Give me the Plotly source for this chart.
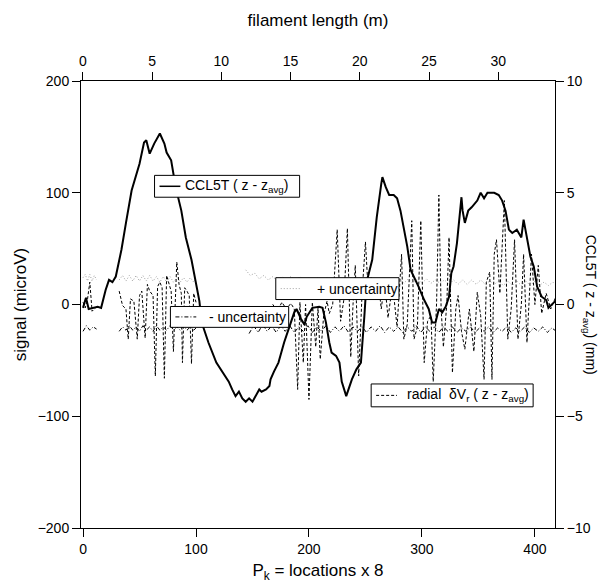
import plotly.graph_objects as go

# ---- data ------------------------------------------------------------------
# CCL5T (z - z_avg), in mm (right axis)
ccl_x = [0, 2.6, 5, 9.7, 13, 16, 20, 23, 26, 29, 34, 38, 43, 50, 54, 56, 59, 63, 68, 72,
         74, 78, 82, 87, 91, 96, 100, 103, 105, 111, 118, 123, 129, 132, 135, 138, 141,
         144, 147, 150, 153, 156, 158, 162, 165, 166, 169, 173, 178, 181, 184, 187, 189,
         193, 196, 198, 203, 209, 212, 215, 218, 220, 224, 227, 229, 233, 235, 238, 242,
         246, 249, 251, 256, 260, 264, 265, 268, 271, 275, 278, 281, 284, 287, 290, 293,
         297, 302, 306, 309, 312, 315, 318, 321, 324, 326, 328, 331, 335, 336, 338, 341,
         344, 349, 352, 355, 358, 364, 368, 371, 374, 377, 380, 384, 388, 390, 393, 396,
         399, 402, 406, 410, 412, 417, 419]
ccl_mm = [-0.15, 0.3, -0.2, -0.15, -0.1, -0.15, 0.65, 1.1, 1.0, 1.25, 2.45, 3.65, 5.1, 6.3,
          7.25, 7.35, 6.75, 7.2, 7.65, 7.2, 6.8, 6.45, 5.25, 4.2, 3.0, 2.0, 1.0, 0.15, -0.8,
          -1.7, -2.6, -3.0, -3.45, -3.8, -4.1, -3.9, -4.2, -4.35, -4.2, -4.35, -4.1, -3.8,
          -3.9, -3.8, -3.65, -3.35, -3.0, -2.6, -1.7, -1.25, -0.8, -0.35, -0.2, -0.65, -0.9,
          -0.55, -0.15, -0.1, -0.15, -0.8, -1.7, -2.15, -2.3, -2.6, -3.45, -4.1, -3.8, -3.35,
          -2.9, -2.6, -0.55, 1.0, 2.0, 3.9, 5.4, 5.7, 5.25, 4.9, 4.9, 4.75, 4.2, 3.35, 2.6,
          1.55, 1.25, 0.8, 0.2, -0.2, -0.8, -0.8, -0.2, -0.35, -0.1, 0.35, 1.4, 1.7, 2.75,
          4.8, 4.2, 3.65, 4.2, 4.35, 4.65, 5.0, 4.75, 5.0, 5.0, 4.9, 4.65, 4.2, 3.35, 3.2,
          3.35, 3.0, 3.8, 3.0, 2.15, 1.7, 0.8, 0.35, 0.2, -0.15, 0.1, 0.2]

# radial dVr (z - z_avg), microV
radial_x = [0, 2, 4, 6, 8, 10, 12, 13,
            32, 35, 38, 40, 42, 45, 48, 50, 52, 55, 57, 59, 62, 64, 66, 68, 70, 72, 74, 76,
            78, 80, 83, 85, 87, 88, 90, 92, 94, 96, 98, 100, 101,
            144, 146, 148, 150, 152, 156, 160, 164, 168, 172, 176, 180, 184, 187, 190, 192,
            195, 197, 200, 203, 206, 208, 210, 213, 216, 218, 221, 225, 228, 231, 234, 237,
            239, 241, 244, 247, 250, 252, 255, 258, 261, 264, 267, 270, 274, 278, 282, 284,
            287, 291, 293, 296, 299, 302, 305, 308, 310, 313, 315, 317, 319, 322, 324, 327,
            330, 332, 335, 338, 342, 346, 349, 352, 355, 357, 360, 362, 364, 366, 369, 373,
            376, 379, 382, 385, 388, 390, 393, 397, 400, 403, 406, 410, 414, 419]
radial = [2, -3, 5, 20, -6, -4, -2, None,
          12, -1, -4, -31, 5, 3, -31, 8, 12, -30, 18, 12, 8, -64, 16, 20, 15, -66, 26, 20,
          12, -42, 38, 18, 10, -52, 15, 12, 8, -53, 10, 2, None,
          -2, -10, -3, -12, -4, -5, -2, -8, 0, -6, 2, -4, 1, -4, -76, 2,
          -52, 0, -85, 2, -38, -3, -49, -10, 3, -8, 0, 67, -15, 5, 68, -47,
          0, 35, -64, 10, 56, 20, 24, 5, 24, -4, 20, -12, 18, -20, 45, -31,
          -18, 75, -31, -20, 75, -52, -15, -10, -69, 2, 98, -4, -38, 0, 60, -61,
          -4, 8, -24, -40, -4, -42, 11, -10, -67, 20, 29, -67, 45, 58, 10, 93,
          -31, -4, 58, -31, 0, 45, -34, 45, 0, 35, -8, 10, -4, 8]

# + uncertainty, microV
unc_plus_x = [0, 2, 4, 6, 8, 10, 12, 13,
              32, 35, 38, 41, 44, 47, 50, 53, 56, 59, 62, 65, 68, 71, 74, 77, 80, 83, 86,
              89, 92, 95, 98, 100, 101,
              144, 148, 152, 156, 160, 164, 168, 172, 176, 180, 184, 188, 192, 196, 200,
              204, 208, 212, 216, 220, 224, 228, 232, 236, 240, 244, 248, 252, 256, 260,
              264, 268, 272, 276, 280, 284, 288, 292, 296, 300, 304, 308, 312, 316, 320,
              324, 328, 332, 336, 340, 344, 348, 352, 356, 360, 364, 368, 372, 376, 380,
              384, 388, 392, 396, 400, 404, 408, 412, 416, 420]
unc_plus = [24, 27, 21, 27, 21, 26, 22, None,
            22, 26, 21, 26, 21, 26, 21, 26, 21, 26, 21, 25, 20, 25, 20, 25, 20, 24, 20,
            24, 20, 24, 20, 23, None,
            31, 26, 28, 23, 26, 22, 25, 21, 25, 22, 25, 21, 25, 21, 24, 21, 24, 21, 24,
            20, 24, 20, 24, 20, 24, 20, 24, 20, 23, 20, 23, 19, 23, 19, 23, 19, 23, 19,
            23, 19, 23, 19, 22, 19, 22, 18, 22, 18, 22, 18, 22, 18, 22, 18, 21, 18, 21,
            17, 21, 17, 21, 17, 21, 17, 21, 17, 20, 17, 20, 17]

# - uncertainty, microV
unc_minus_x = [0, 3, 6, 9, 12, 13,
               32, 35, 38, 41, 44, 47, 50, 53, 56, 59, 62, 65, 68, 71, 74, 77, 80, 83, 86,
               89, 92, 95, 98, 100, 101,
               147, 151, 155, 159, 163, 167, 171, 175, 179, 183, 187, 191, 195, 199, 203,
               207, 211, 215, 219, 223, 227, 231, 235, 239, 243, 247, 251, 255, 259, 263,
               267, 271, 275, 279, 283, 287, 291, 295, 299, 303, 307, 311, 315, 319, 323,
               327, 331, 335, 339, 343, 347, 351, 355, 359, 363, 367, 371, 375, 379, 383,
               387, 391, 395, 399, 403, 407, 411, 415, 419]
unc_minus = [-24, -19, -23, -20, -22, None,
             -24, -20, -23, -19, -23, -20, -24, -19, -23, -20, -24, -19, -23, -20, -23,
             -19, -23, -20, -23, -19, -23, -20, -23, -21, None,
             -26, -19, -25, -18, -24, -19, -25, -19, -24, -19, -25, -20, -24, -19, -25,
             -20, -24, -19, -25, -20, -24, -19, -25, -20, -24, -20, -25, -20, -24, -19,
             -25, -20, -24, -20, -25, -20, -24, -19, -25, -20, -24, -20, -25, -20, -24,
             -20, -25, -21, -24, -20, -25, -21, -24, -20, -25, -21, -24, -20, -25, -21,
             -24, -20, -25, -21, -24, -20, -25, -21, -24]

# ---- figure ------------------------------------------------------------------
FONT = "Liberation Sans, Arial, Helvetica, sans-serif"
L, R, T, B = 70, 547, 70, 520


def px(x):
    return (x - L) / (R - L)


def py(y):
    return (B - y) / (B - T)


fig = go.Figure()
fig.add_trace(go.Scatter(x=unc_plus_x, y=unc_plus, mode="lines",
                         line=dict(color="#a0a0a0", width=1, dash="1px,2px")))
fig.add_trace(go.Scatter(x=unc_minus_x, y=unc_minus, mode="lines",
                         line=dict(color="black", width=1, dash="4px,2px,1px,2px")))
fig.add_trace(go.Scatter(x=radial_x, y=radial, mode="lines",
                         line=dict(color="black", width=1, dash="3px,2px")))
fig.add_trace(go.Scatter(x=ccl_x, y=ccl_mm, mode="lines", yaxis="y2",
                         line=dict(color="black", width=2)))
fig.add_trace(go.Scatter(x=[0], y=[None], xaxis="x2", mode="lines",
                         hoverinfo="skip"))

axis_style = dict(showline=True, linecolor="black", linewidth=1, ticks="outside",
                  ticklen=8, tickcolor="black", showgrid=False, zeroline=False,
                  tickfont=dict(size=14))

# legend boxes drawn as shapes + text
legend_items = [
    dict(box=(144, 165, 290, 187), sample=dict(color="black", width=1.5, dash="solid"),
         text="CCL5T ( z - z<sub>avg</sub>)", tx=173),
    dict(box=(266, 268, 390, 290), sample=dict(color="#a0a0a0", width=1, dash="1px,2px"),
         text="+ uncertainty", tx=305),
    dict(box=(160, 297, 279, 318), sample=dict(color="black", width=1, dash="4px,2px,1px,2px"),
         text="- uncertainty", tx=197),
    dict(box=(362, 375, 525, 398), sample=dict(color="black", width=1, dash="3px,2px"),
         text="radial  δV<sub>r</sub> ( z - z<sub>avg</sub>)", tx=396),
]
shapes, annotations = [], []
for item in legend_items:
    x0, y0, x1, y1 = item["box"]
    ym = (y0 + y1) / 2
    shapes.append(dict(type="rect", xref="paper", yref="paper", layer="above",
                       x0=px(x0), x1=px(x1), y0=py(y1), y1=py(y0),
                       fillcolor="white", line=dict(color="black", width=1)))
    shapes.append(dict(type="line", xref="paper", yref="paper", layer="above",
                       x0=px(x0 + 5), x1=px(x0 + 26), y0=py(ym), y1=py(ym),
                       line=item["sample"]))
    annotations.append(dict(xref="paper", yref="paper", x=px(item["tx"]), y=py(ym),
                            xanchor="left", yanchor="middle", showarrow=False,
                            text=item["text"], font=dict(size=14)))

annotations.append(dict(xref="paper", yref="paper", x=px(583), y=0.5, textangle=90,
                        showarrow=False, xanchor="center", yanchor="middle",
                        text="CCL5T ( z - z<sub>avg</sub>) (mm)", font=dict(size=14)))

fig.update_layout(
    width=607, height=586,
    margin=dict(l=L, r=607 - R, t=T, b=586 - B),
    paper_bgcolor="white", plot_bgcolor="white",
    font=dict(family=FONT, size=14, color="black"),
    showlegend=False,
    xaxis=dict(range=[-1.8, 417.8], tickvals=[0, 100, 200, 300, 400], anchor="y",
               title=dict(text="P<sub>k</sub> = locations x 8", standoff=8), **axis_style),
    xaxis2=dict(range=[-0.14, 34.1], tick0=0, dtick=5, overlaying="x", side="top",
                anchor="y", title=dict(text="filament length (m)", standoff=22),
                **axis_style),
    yaxis=dict(range=[-200, 200], dtick=100, anchor="x",
               title=dict(text="signal (microV)", standoff=6), **axis_style),
    yaxis2=dict(range=[-10, 10], dtick=5, overlaying="y", side="right", anchor="x",
                **axis_style),
    shapes=shapes,
    annotations=annotations,
)

fig.write_html("out.html")
